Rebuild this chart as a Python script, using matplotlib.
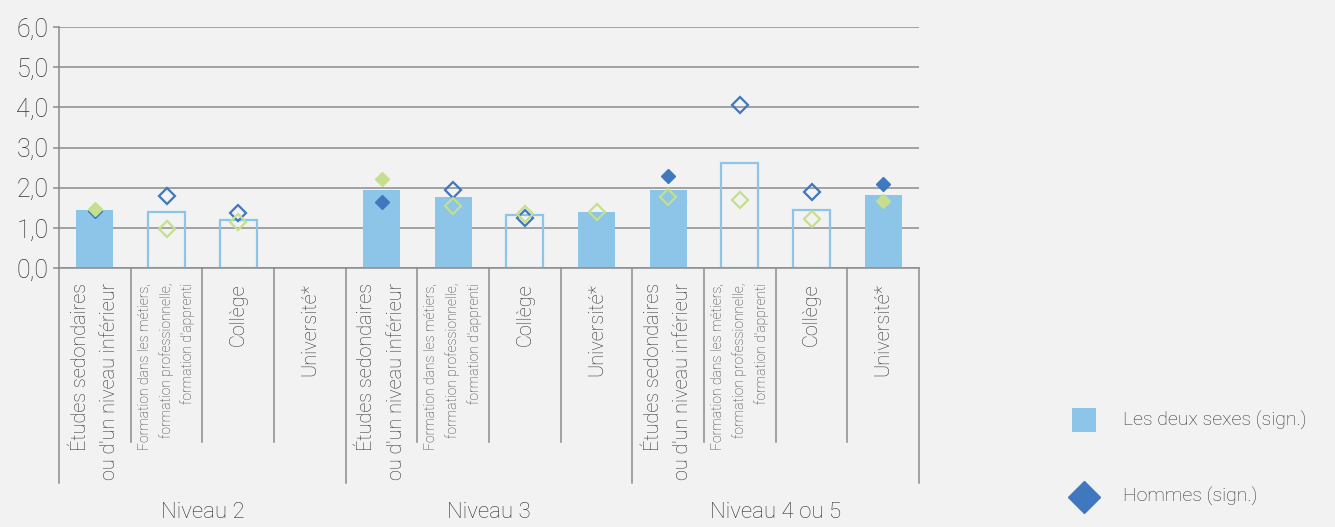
import numpy as np
import matplotlib
matplotlib.use('Agg')
import matplotlib.pyplot as plt
import matplotlib.transforms as mtransforms
from matplotlib.lines import Line2D
from matplotlib.patches import Rectangle

plt.rcParams['font.family'] = ['Roboto', 'DejaVu Sans']
plt.rcParams['font.weight'] = 'light'

# categories and groups
categories = [
    "Études sedondaires\nou d'un niveau inférieur",
    "Formation dans les métiers,\nformation professionnelle,\nformation d'apprenti",
    "Collège",
    "Université*",
] * 3
groups = ["Niveau 2", "Niveau 3", "Niveau 4 ou 5"]

# values (nan = no value)
both = [1.45, 1.39, 1.20, np.nan, 1.95, 1.77, 1.32, 1.39, 1.95, 2.61, 1.44, 1.82]
both_sig = [True, False, False, False, True, True, False, True, True, False, False, True]
men = [1.43, 1.79, 1.38, np.nan, 1.64, 1.95, 1.24, np.nan, 2.30, 4.05, 1.88, 2.09]
men_sig = [True, False, False, False, True, False, False, False, True, False, False, True]
women = [1.48, 0.98, 1.14, np.nan, 2.22, 1.54, 1.34, 1.40, 1.77, 1.69, 1.22, 1.67]
women_sig = [True, False, False, False, True, False, False, False, False, False, False, True]

bar_color = '#8dc5e8'
men_color = '#3f78bf'
women_color = '#c5df8c'
grid_color = '#8c8c8c'
text_color = '#333333'
bg = '#f2f2f2'

fig = plt.figure(figsize=(13.35, 5.27), dpi=100, facecolor=bg)
ax = fig.add_axes([59 / 1335, 1 - 268 / 527, (919 - 59) / 1335, (268 - 27) / 527])
ax.set_facecolor(bg)

x = np.arange(len(categories))
both_arr = np.array(both)
sig = np.array(both_sig)

# bars: filled when significant, outline otherwise
ax.bar(x[sig], both_arr[sig], width=0.52, color=bar_color, zorder=2)
ax.bar(x[~sig], both_arr[~sig], width=0.52, facecolor='none', edgecolor=bar_color,
       linewidth=1.6, zorder=2)

for vals, sigs, col in [(men, men_sig, men_color), (women, women_sig, women_color)]:
    v = np.array(vals)
    s = np.array(sigs)
    ax.plot(x[s], v[s], ls='none', marker='D', markersize=7.2, color=col, zorder=3)
    ax.plot(x[~s], v[~s], ls='none', marker='D', markersize=7.8, markerfacecolor='none',
            markeredgecolor=col, markeredgewidth=1.6, zorder=3)

ax.set_xlim(-0.5, len(categories) - 0.5)
ax.set_ylim(0, 6)
ax.set_yticks(np.arange(0, 7, 1))
ax.set_yticklabels([('%.1f' % t).replace('.', ',') for t in range(7)], fontsize=18,
                   color=text_color)
ax.tick_params(axis='y', length=4.5, color=grid_color, width=1.1, pad=3)
ax.set_xticks([])
ax.grid(axis='y', color=grid_color, linewidth=1.1)
ax.set_axisbelow(True)
for side in ['top', 'right']:
    ax.spines[side].set_visible(False)
for side in ['left', 'bottom']:
    ax.spines[side].set_color(grid_color)
    ax.spines[side].set_linewidth(1.1)

# multi-level category axis
trans = mtransforms.blended_transform_factory(ax.transData, ax.transAxes)
ax_h = 268 - 27
short_y = -(442 - 268) / ax_h
long_y = -(483 - 268) / ax_h
for b in np.arange(-0.5, len(categories)):
    bottom = long_y if (b + 0.5) % 4 == 0 else short_y
    ax.plot([b, b], [0, bottom], transform=trans, color=grid_color, lw=1.1, clip_on=False)

label_y = -(283 - 268) / ax_h
for i, lab in enumerate(categories):
    small = lab.startswith('Formation')
    ax.text(i, label_y, lab, transform=trans, rotation=90, ha='center', va='top',
            multialignment='right', fontsize=10 if small else 14.3,
            linespacing=1.6 if small else 1.7, color=text_color)

for g, name in enumerate(groups):
    ax.text(g * 4 + 1.5, -(513 - 268) / ax_h, name, transform=trans, ha='center',
            va='center', fontsize=16, color=text_color)

# legend drawn by hand to the right
W, H = 1335, 527
fig.add_artist(Rectangle((1072 / W, 1 - 432 / H), 24 / W, 24 / H, transform=fig.transFigure,
                         facecolor=bar_color, edgecolor='none'))
fig.add_artist(Line2D([1084 / W], [1 - 497 / H], transform=fig.transFigure, marker='D',
                      markersize=16.5, color=men_color, ls='none'))
fig.text(1123 / W, 1 - 420 / H, 'Les deux sexes (sign.)', va='center', ha='left',
         fontsize=14, color=text_color)
fig.text(1123 / W, 1 - 496 / H, 'Hommes (sign.)', va='center', ha='left',
         fontsize=14, color=text_color)

fig.savefig('out.png', dpi=100, facecolor=bg)
